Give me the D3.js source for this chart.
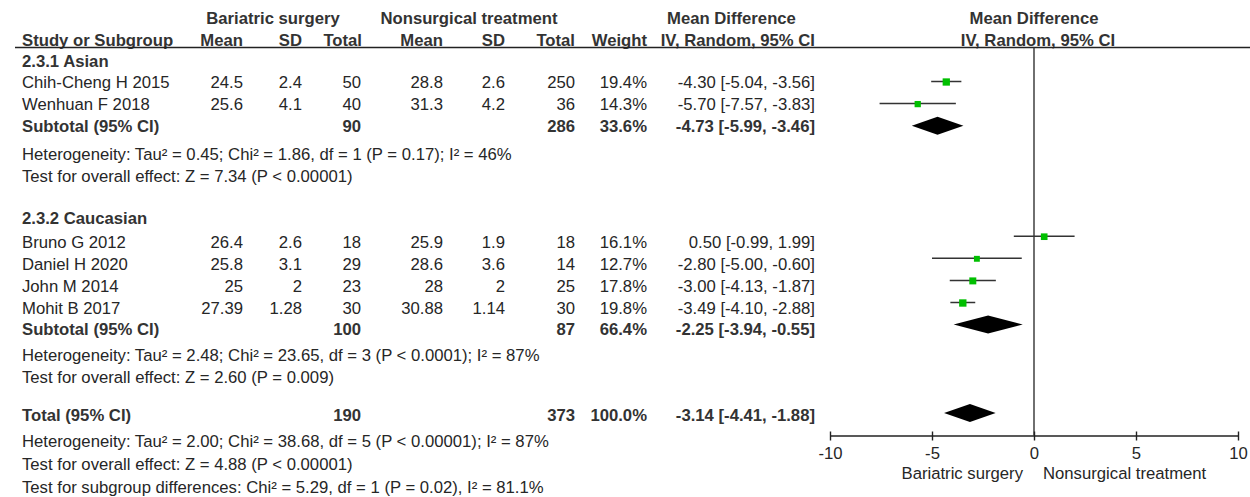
<!DOCTYPE html>
<html>
<head>
<meta charset="utf-8">
<script src="https://cdn.jsdelivr.net/npm/d3@7"></script>
<style>
  html, body { margin: 0; padding: 0; background: #fff; }
  svg { display: block; }
  text { font-family: "Liberation Sans", Arial, sans-serif; font-size: 16.7px; fill: #262626; }
  .b { font-weight: bold; fill: #333; }
</style>
</head>
<body>
<svg id="chart" width="1250" height="497"></svg>
<script>
// ---------------- DATA ----------------
const groupLabels = ["2.3.1 Asian", "2.3.2 Caucasian"];
const studyNames = ["Chih-Cheng H 2015", "Wenhuan F 2018", "Bruno G 2012", "Daniel H 2020", "John M 2014", "Mohit B 2017"];
const studyGroup = [0, 0, 1, 1, 1, 1];
const bariMean = [24.5, 25.6, 26.4, 25.8, 25, 27.39];
const bariSD   = [2.4, 4.1, 2.6, 3.1, 2, 1.28];
const bariN    = [50, 40, 18, 29, 23, 30];
const nonMean  = [28.8, 31.3, 25.9, 28.6, 28, 30.88];
const nonSD    = [2.6, 4.2, 1.9, 3.6, 2, 1.14];
const nonN     = [250, 36, 18, 14, 25, 30];
const studyWeight = [19.4, 14.3, 16.1, 12.7, 17.8, 19.8];
const studyMD  = [-4.30, -5.70, 0.50, -2.80, -3.00, -3.49];
const studyLo  = [-5.04, -7.57, -0.99, -5.00, -4.13, -4.10];
const studyHi  = [-3.56, -3.83, 1.99, -0.60, -1.87, -2.88];

const pooledLabels = ["Subtotal (95% CI)", "Subtotal (95% CI)", "Total (95% CI)"];
const pooledBariN  = [90, 100, 190];
const pooledNonN   = [286, 87, 373];
const pooledWeight = [33.6, 66.4, 100.0];
const pooledMD     = [-4.73, -2.25, -3.14];
const pooledLo     = [-5.99, -3.94, -4.41];
const pooledHi     = [-3.46, -0.55, -1.88];

const heterogeneityText = [
  "Heterogeneity: Tau² = 0.45; Chi² = 1.86, df = 1 (P = 0.17); I² = 46%",
  "Heterogeneity: Tau² = 2.48; Chi² = 23.65, df = 3 (P < 0.0001); I² = 87%",
  "Heterogeneity: Tau² = 2.00; Chi² = 38.68, df = 5 (P < 0.00001); I² = 87%"
];
const overallEffectText = [
  "Test for overall effect: Z = 7.34 (P < 0.00001)",
  "Test for overall effect: Z = 2.60 (P = 0.009)",
  "Test for overall effect: Z = 4.88 (P < 0.00001)"
];
const subgroupDiffText = "Test for subgroup differences: Chi² = 5.29, df = 1 (P = 0.02), I² = 81.1%";

const axisTicks = [-10, -5, 0, 5, 10];
const axisDomain = [-10, 10];
const favoursLeft = "Bariatric surgery";
const favoursRight = "Nonsurgical treatment";

// ---------------- LAYOUT ----------------
const rows = [];
[0, 1].forEach(g => {
  rows.push({ type: "group", g });
  studyNames.forEach((n, i) => { if (studyGroup[i] === g) rows.push({ type: "study", i }); });
  rows.push({ type: "pooled", p: g });
  rows.push({ type: "note", text: heterogeneityText[g] });
  rows.push({ type: "note", text: overallEffectText[g] });
  rows.push({ type: "blank" });
});
rows.push({ type: "pooled", p: 2 });
rows.push({ type: "note", text: heterogeneityText[2] });
rows.push({ type: "note", text: overallEffectText[2] });
rows.push({ type: "note", text: subgroupDiffText });
rows.forEach((r, k) => r.idx = k);

const textIdx = d3.range(rows.length);
const textBase = [67, 88, 110, 131.5, 159.5, 182, 203, 224, 248, 270, 292, 314, 335, 361, 383, 402, 421, 447, 470, 493];
const yText = d3.scaleLinear().domain(textIdx).range(textBase);
const yPlot = d3.scaleLinear().domain([1, 16]).range([81.5, 413]);

const x = d3.scaleLinear().domain(axisDomain).range([830, 1238]);
const sq = d3.scaleSqrt().domain([0, 20]).range([0, 7.4]);

const col = { name: 22, bMean: 243, bSD: 302, bN: 361, nMean: 443, nSD: 505, nN: 575, w: 647, ci: 815 };
const f2 = v => v.toFixed(2);
const fCI = (m, lo, hi) => `${f2(m)} [${f2(lo)}, ${f2(hi)}]`;

const svg = d3.select("#chart");

// ---------------- HEADERS ----------------
const hdr = svg.append("g");
function t(g, xx, yy, txt, anchor, bold) {
  return g.append("text").attr("x", xx).attr("y", yy).attr("text-anchor", anchor || "start")
    .attr("class", bold ? "b" : null).text(txt);
}
const h1 = 24, h2 = 45.5;
t(hdr, 273, h1, "Bariatric surgery", "middle", true);
t(hdr, 469, h1, "Nonsurgical treatment", "middle", true);
t(hdr, 667, h1, "Mean Difference", "start", true);
t(hdr, 1034, h1, "Mean Difference", "middle", true);
t(hdr, col.name, h2, "Study or Subgroup", "start", true);
t(hdr, col.bMean, h2, "Mean", "end", true);
t(hdr, col.bSD, h2, "SD", "end", true);
t(hdr, col.bN + 1, h2, "Total", "end", true);
t(hdr, col.nMean, h2, "Mean", "end", true);
t(hdr, col.nSD, h2, "SD", "end", true);
t(hdr, col.nN, h2, "Total", "end", true);
t(hdr, col.w, h2, "Weight", "end", true);
t(hdr, col.ci, h2, "IV, Random, 95% CI", "end", true);
t(hdr, 1038, h2, "IV, Random, 95% CI", "middle", true);

svg.append("line").attr("x1", 15).attr("x2", 1250).attr("y1", 47.5).attr("y2", 47.5)
  .attr("stroke", "#222").attr("stroke-width", 1.4);

// ---------------- TABLE ROWS ----------------
const body = svg.append("g");
rows.forEach(r => {
  const yy = yText(r.idx);
  if (r.type === "group") {
    t(body, col.name, yy, groupLabels[r.g], "start", true);
  } else if (r.type === "study") {
    const i = r.i;
    t(body, col.name, yy, studyNames[i]);
    t(body, col.bMean, yy, String(bariMean[i]), "end");
    t(body, col.bSD, yy, String(bariSD[i]), "end");
    t(body, col.bN, yy, String(bariN[i]), "end");
    t(body, col.nMean, yy, String(nonMean[i]), "end");
    t(body, col.nSD, yy, String(nonSD[i]), "end");
    t(body, col.nN, yy, String(nonN[i]), "end");
    t(body, col.w, yy, studyWeight[i].toFixed(1) + "%", "end");
    t(body, col.ci, yy, fCI(studyMD[i], studyLo[i], studyHi[i]), "end");
  } else if (r.type === "pooled") {
    const p = r.p;
    t(body, col.name, yy, pooledLabels[p], "start", true);
    t(body, col.bN, yy, String(pooledBariN[p]), "end", true);
    t(body, col.nN, yy, String(pooledNonN[p]), "end", true);
    t(body, col.w, yy, pooledWeight[p].toFixed(1) + "%", "end", true);
    t(body, col.ci, yy, fCI(pooledMD[p], pooledLo[p], pooledHi[p]), "end", true);
  } else if (r.type === "note") {
    t(body, col.name, yy, r.text);
  }
});

// ---------------- PLOT ----------------
const plot = svg.append("g");
const axisY = 435.5;
plot.append("line").attr("x1", x(0)).attr("x2", x(0)).attr("y1", 47.5).attr("y2", axisY)
  .attr("stroke", "#333").attr("stroke-width", 1.4);

rows.filter(r => r.type === "study").forEach(r => {
  const i = r.i, yy = yPlot(r.idx);
  plot.append("line").attr("x1", x(studyLo[i])).attr("x2", x(studyHi[i]))
    .attr("y1", yy).attr("y2", yy).attr("stroke", "#333").attr("stroke-width", 1.5);
  const s = sq(studyWeight[i]);
  plot.append("rect").attr("x", x(studyMD[i]) - s / 2).attr("y", yy - s / 2 + 0.5)
    .attr("width", s).attr("height", s).attr("fill", "#00bf00");
});

rows.filter(r => r.type === "pooled").forEach(r => {
  const p = r.p, yy = yPlot(r.idx), hh = 9;
  const pts = [[x(pooledLo[p]), yy], [x(pooledMD[p]), yy - hh], [x(pooledHi[p]), yy], [x(pooledMD[p]), yy + hh]];
  plot.append("path").attr("d", d3.line()(pts) + "Z").attr("fill", "#000");
});

// axis
const axis = d3.axisBottom(x).tickValues(axisTicks).tickFormat(d => String(d)).tickSize(5).tickSizeOuter(0);
const ag = plot.append("g").attr("transform", `translate(0,${axisY})`).call(axis);
ag.attr("font-size", null).attr("font-family", null);
ag.select(".domain").attr("stroke", "#222").attr("stroke-width", 1.4);
ag.selectAll(".tick line").attr("y1", -4).attr("y2", 5).attr("stroke", "#222").attr("stroke-width", 1.4);
ag.selectAll(".tick text").attr("y", 23.5).attr("dy", 0).attr("fill", "#262626");

t(plot, x(0) - 11, 479, favoursLeft, "end");
t(plot, x(0) + 9, 479, favoursRight, "start");
</script>
</body>
</html>
